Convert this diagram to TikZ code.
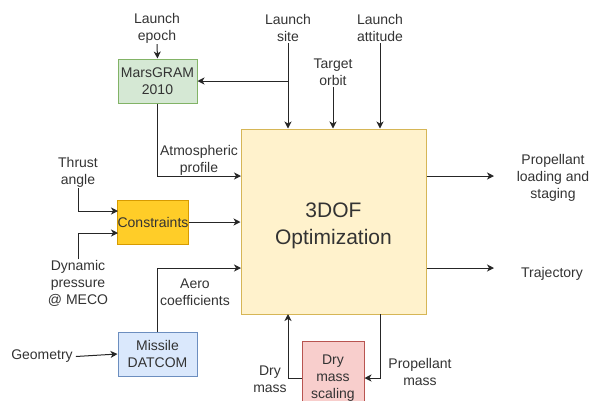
\documentclass[tikz,border=0pt]{standalone}
\usepackage{fontspec}
\setmainfont{Liberation Sans}
\usetikzlibrary{arrows.meta}
\definecolor{txt}{HTML}{333333}
\definecolor{gfill}{HTML}{D5E8D4}\definecolor{gline}{HTML}{82B366}
\definecolor{yfill}{HTML}{FFCD28}\definecolor{yline}{HTML}{D79B00}
\definecolor{bfill}{HTML}{DAE8FC}\definecolor{bline}{HTML}{6C8EBF}
\definecolor{rfill}{HTML}{F8CECC}\definecolor{rline}{HTML}{B85450}
\definecolor{mfill}{HTML}{FFF2CC}\definecolor{mline}{HTML}{D6B656}
\tikzset{
  lbl/.style={text=txt, align=center, inner sep=1pt, yshift=-1.5pt, font=\fontsize{14}{17}\selectfont},
  blk/.style={draw, line width=1pt, align=center, text=txt, inner sep=0pt, font=\fontsize{14}{17}\selectfont},
  conn/.style={line width=1pt, draw=black!85, -{Stealth[length=7pt,width=7pt,inset=2pt]}},
}
\begin{document}
\begin{tikzpicture}[x=1pt,y=-1pt]
\useasboundingbox (0,0) rectangle (598,400);
\clip (0,0) rectangle (598,400);
% blocks
\node[blk, fill=mfill, draw=mline, minimum width=185pt, minimum height=185pt] (main) at (333.5,221.5) {};
\node[text=txt, align=center, inner sep=0pt, font=\fontsize{21}{27}\selectfont] (title) at (333.5,226) {3DOF\\Optimization};
\node[blk, fill=gfill, draw=gline, minimum width=79pt, minimum height=44pt] (mars) at (157.5,81) {MarsGRAM\\2010};
\node[blk, fill=yfill, draw=yline, minimum width=70pt, minimum height=44pt] (cons) at (153,222) {Constraints};
\node[blk, fill=bfill, draw=bline, minimum width=79pt, minimum height=44pt] (dat) at (157.5,354) {Missile\\DATCOM};
\node[blk, fill=rfill, draw=rline, minimum width=62pt, minimum height=74pt] (dms) at (333,378) {Dry\\mass\\scaling};
% text labels
\node[lbl] (epoch) at (157,26.5) {Launch\\epoch};
\node[lbl] (site) at (288,26.5) {Launch\\site};
\node[lbl] (att) at (380,26.5) {Launch\\attitude};
\node[lbl] (orbit) at (333,70.5) {Target\\orbit};
\node[lbl] (thr) at (78,170.5) {Thrust\\angle};
\node[lbl] (dyn) at (78,282) {Dynamic\\pressure\\@ MECO};
\node[lbl] (geo) at (42,355) {Geometry};
\node[lbl] (atm) at (199,158.5) {Atmospheric\\profile};
\node[lbl] (aero) at (195,291) {Aero\\coefficients};
\node[lbl] (drym) at (270,377.5) {Dry\\mass};
\node[lbl] (propm) at (420,370) {Propellant\\mass};
\node[lbl] (pls) at (553,176) {Propellant\\loading and\\staging};
\node[lbl] (traj) at (552,272) {Trajectory};
% coordinates
\coordinate (jn) at (288,81);
\coordinate (a1) at (241,176);
\coordinate (a2) at (241,268);
\coordinate (c1) at (118,211);
\coordinate (c2) at (118,233);
\coordinate (p1) at (494,176);
\coordinate (p2) at (494,268);
\coordinate (dm) at (288,314);
\coordinate (pm) at (380,314);
% connectors
\draw[conn] (epoch.south) -- (mars.north);
\draw[conn] (site.south) -- (site.south |- main.north);
\draw[conn] (jn) -- (mars.east);
\draw[conn] (orbit.south) -- (orbit.south |- main.north);
\draw[conn] (att.south) -- (att.south |- main.north);
\draw[conn] (mars.south) |- (a1);
\draw[conn] (thr.south) |- (c1);
\draw[conn] (dyn.north) |- (c2);
\draw[conn] (cons.east) -- (cons.east -| main.west);
\draw[conn] (dat.north) |- (a2);
\draw[conn] ([xshift=2pt]geo.east) -- (dat.west);
\draw[conn] (main.east |- p1) -- (p1);
\draw[conn] (main.east |- p2) -- (p2);
\draw[conn] (dms.west) -| (dm);
\draw[conn] (pm) |- (dms.east);
\end{tikzpicture}
\end{document}
